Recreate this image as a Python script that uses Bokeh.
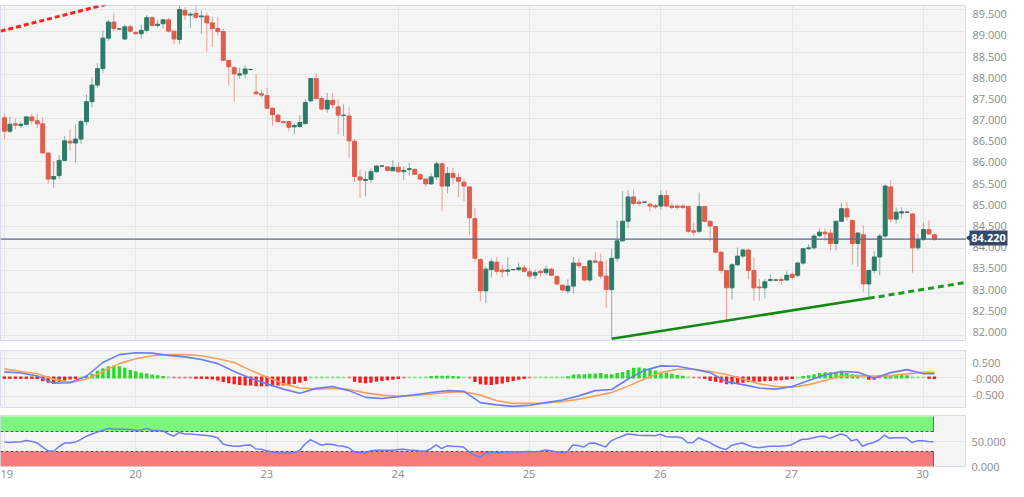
import math
from bokeh.plotting import figure
from bokeh.layouts import column, row
from bokeh.models import (ColumnDataSource, Range1d, FixedTicker, Span, AllLabels,
                          NumeralTickFormatter)
from bokeh.core.properties import value
from bokeh.embed import file_html
from bokeh.resources import INLINE

# ---------------- data ----------------
day_labels = ["19", "20", "23", "24", "25", "26", "27", "30"]
day_first_candle = [0, 24, 48, 72, 96, 120, 144, 168]

opens = [
    87.01, 86.70, 86.87, 86.83, 86.86, 87.03, 86.94, 86.87, 86.20, 85.60, 85.68, 86.03, 86.47, 86.43, 86.52, 86.92, 87.38, 87.76, 88.14, 88.84, 89.21, 89.05, 88.82, 89.10,
    88.97, 88.94, 89.02, 89.31, 89.13, 89.17, 89.26, 89.00, 88.81, 89.48, 89.37, 89.41, 89.33, 89.35, 89.19, 89.06, 88.99, 88.33, 88.16, 87.99, 88.02, 88.12, 87.60, 87.56,
    87.52, 87.23, 87.07, 86.92, 86.92, 86.80, 86.81, 86.88, 87.40, 87.91, 87.45, 87.21, 87.41, 87.26, 87.06, 87.05, 86.47, 85.65, 85.57, 85.59, 85.77, 85.90, 85.88, 85.79,
    85.87, 85.77, 85.82, 85.82, 85.70, 85.60, 85.49, 85.65, 85.95, 85.44, 85.73, 85.64, 85.53, 85.42, 84.69, 83.75, 83.03, 83.52, 83.69, 83.51, 83.48, 83.52, 83.52, 83.56,
    83.47, 83.39, 83.48, 83.45, 83.53, 83.36, 83.16, 83.03, 83.14, 83.67, 83.59, 83.28, 83.72, 83.70, 83.37, 83.06, 83.78, 84.18, 84.63, 85.19, 85.07, 85.07, 85.02, 84.99,
    84.98, 85.22, 84.98, 84.98, 84.98, 84.97, 84.41, 84.40, 84.97, 84.63, 84.51, 83.92, 83.50, 83.10, 83.63, 83.83, 83.97, 83.50, 83.12, 83.10, 83.27, 83.28, 83.29, 83.28,
    83.41, 83.39, 83.67, 84.00, 84.02, 84.30, 84.38, 84.36, 84.12, 84.63, 84.92, 84.65, 84.12, 84.32, 83.19, 83.50, 83.81, 84.29, 85.42, 84.68, 84.82, 84.84, 84.80, 84.02,
    84.21, 84.44, 84.32,
]
highs = [
    87.10, 87.04, 86.99, 86.92, 87.04, 87.10, 87.10, 87.03, 86.20, 86.01, 86.15, 86.59, 86.74, 86.85, 86.96, 87.54, 87.94, 88.27, 89.02, 89.26, 89.41, 89.06, 89.15, 89.15,
    89.00, 89.15, 89.37, 89.33, 89.26, 89.27, 89.30, 89.00, 89.59, 89.55, 89.44, 89.59, 89.48, 89.44, 89.33, 89.33, 89.06, 88.33, 88.20, 88.16, 88.21, 88.13, 88.02, 87.65,
    87.70, 87.25, 87.10, 86.94, 86.94, 86.88, 87.07, 87.43, 87.92, 88.02, 87.50, 87.58, 87.58, 87.43, 87.32, 87.25, 86.52, 85.82, 85.79, 85.85, 85.92, 85.91, 85.90, 86.03,
    85.99, 85.90, 85.97, 85.85, 85.73, 85.63, 85.73, 86.01, 85.98, 85.88, 85.86, 85.73, 85.60, 85.44, 84.93, 83.78, 83.59, 83.78, 83.81, 83.63, 83.80, 83.53, 83.68, 83.63,
    83.56, 83.52, 83.53, 83.61, 83.56, 83.39, 83.19, 83.30, 83.81, 83.78, 83.61, 83.75, 83.92, 83.89, 83.74, 84.00, 84.65, 85.33, 85.35, 85.36, 85.13, 85.08, 85.06, 85.03,
    85.35, 85.35, 85.06, 85.02, 85.04, 84.98, 84.60, 85.29, 84.98, 84.65, 84.52, 83.94, 83.50, 83.67, 84.03, 84.00, 84.00, 83.80, 83.30, 83.30, 83.41, 83.29, 83.34, 83.48,
    83.46, 83.70, 84.02, 84.10, 84.34, 84.47, 84.47, 84.44, 84.65, 85.06, 85.07, 84.68, 84.38, 84.54, 83.52, 83.94, 84.34, 85.48, 85.57, 84.95, 84.95, 84.85, 84.81, 84.34,
    84.60, 84.65, 84.36,
]
lows = [
    86.52, 86.66, 86.74, 86.77, 86.83, 86.85, 86.77, 86.19, 85.49, 85.40, 85.60, 86.01, 86.26, 85.98, 86.41, 86.83, 87.25, 87.69, 88.04, 88.78, 89.00, 89.04, 88.80, 88.97,
    88.93, 88.82, 88.97, 89.11, 89.08, 89.06, 88.97, 88.70, 88.70, 89.26, 89.08, 89.26, 88.93, 88.53, 88.64, 88.89, 88.31, 87.75, 87.38, 87.91, 87.92, 88.11, 87.54, 87.47,
    87.21, 86.83, 86.90, 86.87, 86.70, 86.63, 86.77, 86.85, 87.36, 87.43, 87.18, 87.12, 87.21, 86.63, 86.59, 86.09, 85.53, 85.17, 85.20, 85.51, 85.75, 85.89, 85.77, 85.79,
    85.75, 85.58, 85.68, 85.70, 85.58, 85.42, 85.47, 85.57, 84.86, 85.27, 85.49, 85.19, 85.09, 84.31, 83.70, 82.79, 82.75, 83.34, 83.41, 83.34, 83.37, 83.51, 83.48, 83.45,
    83.29, 83.30, 83.36, 83.39, 83.37, 83.16, 83.01, 82.97, 82.97, 83.56, 83.24, 83.23, 83.67, 83.30, 82.64, 81.93, 83.70, 84.16, 84.47, 84.99, 84.98, 85.06, 84.85, 84.92,
    84.89, 84.96, 84.91, 84.89, 84.91, 84.36, 84.29, 84.36, 84.60, 84.16, 83.89, 83.43, 82.35, 82.83, 83.61, 83.78, 83.30, 82.80, 82.80, 82.86, 83.24, 83.27, 83.17, 83.27,
    83.30, 83.34, 83.63, 83.97, 83.97, 84.27, 84.18, 83.97, 83.96, 84.62, 84.65, 83.63, 83.59, 83.01, 82.86, 83.43, 83.39, 84.25, 84.60, 84.58, 84.69, 84.83, 83.45, 83.96,
    84.18, 84.32, 84.18,
]
closes = [
    86.70, 86.86, 86.84, 86.86, 87.03, 86.94, 86.87, 86.20, 85.60, 85.66, 86.03, 86.48, 86.43, 86.52, 86.92, 87.38, 87.76, 88.14, 88.84, 89.21, 89.06, 89.05, 89.10, 89.00,
    88.94, 89.02, 89.31, 89.13, 89.16, 89.26, 89.00, 88.82, 89.50, 89.37, 89.39, 89.32, 89.35, 89.19, 89.06, 88.99, 88.33, 88.18, 88.02, 88.02, 88.13, 88.12, 87.56, 87.53,
    87.23, 87.08, 86.92, 86.90, 86.79, 86.83, 86.90, 87.36, 87.91, 87.45, 87.21, 87.41, 87.31, 87.07, 87.07, 86.48, 85.66, 85.58, 85.59, 85.77, 85.90, 85.90, 85.80, 85.87,
    85.77, 85.80, 85.84, 85.71, 85.60, 85.49, 85.65, 85.95, 85.44, 85.73, 85.64, 85.55, 85.44, 84.71, 83.78, 83.03, 83.53, 83.70, 83.48, 83.47, 83.51, 83.52, 83.56, 83.48,
    83.37, 83.45, 83.45, 83.53, 83.39, 83.19, 83.05, 83.14, 83.67, 83.61, 83.28, 83.72, 83.69, 83.37, 83.06, 83.78, 84.18, 84.63, 85.19, 85.04, 85.04, 85.07, 84.98, 84.96,
    85.22, 84.98, 84.95, 84.95, 84.95, 84.40, 84.38, 84.97, 84.63, 84.52, 83.92, 83.50, 83.10, 83.63, 83.83, 83.97, 83.50, 83.10, 83.10, 83.24, 83.29, 83.28, 83.27, 83.39,
    83.34, 83.67, 84.00, 84.02, 84.29, 84.38, 84.34, 84.12, 84.63, 84.92, 84.73, 84.12, 84.36, 83.19, 83.50, 83.81, 84.29, 85.44, 84.68, 84.84, 84.85, 84.84, 84.02, 84.21,
    84.44, 84.34, 84.22,
]
last_price = 84.22

# MACD (12,26,9)
macd_hist = [
    -0.03, -0.03, -0.03, -0.03, -0.03, -0.03, -0.04, -0.10, -0.14, -0.17, -0.12, -0.08, -0.05, -0.03, 0.00, 0.05, 0.10, 0.18, 0.25, 0.30, 0.32, 0.30, 0.26, 0.20,
    0.17, 0.13, 0.11, 0.08, 0.06, 0.04, 0.02, -0.01, -0.02, -0.02, -0.02, -0.03, -0.03, -0.04, -0.05, -0.08, -0.12, -0.15, -0.18, -0.20, -0.21, -0.21, -0.23, -0.23,
    -0.23, -0.23, -0.21, -0.21, -0.19, -0.17, -0.14, -0.09, 0.01, 0.02, 0.02, 0.02, 0.02, 0.02, 0.01, -0.01, -0.11, -0.14, -0.15, -0.14, -0.11, -0.09, -0.07, -0.06,
    -0.04, -0.02, 0.01, 0.01, 0.01, 0.02, 0.04, 0.05, 0.05, 0.05, 0.04, 0.03, 0.01, -0.02, -0.12, -0.18, -0.19, -0.20, -0.18, -0.16, -0.12, -0.09, -0.06, -0.03,
    -0.01, 0.01, 0.01, 0.02, 0.02, 0.02, 0.02, 0.03, 0.08, 0.09, 0.09, 0.10, 0.11, 0.12, 0.09, 0.09, 0.12, 0.15, 0.20, 0.26, 0.27, 0.25, 0.22, 0.18,
    0.15, 0.13, 0.10, 0.07, 0.05, 0.02, -0.01, -0.02, -0.03, -0.09, -0.11, -0.14, -0.18, -0.18, -0.16, -0.14, -0.12, -0.11, -0.11, -0.10, -0.09, -0.08, -0.07, -0.06,
    -0.04, 0.00, 0.04, 0.06, 0.09, 0.12, 0.14, 0.14, 0.14, 0.15, 0.12, 0.09, 0.06, 0.01, -0.06, -0.06, -0.01, 0.06, 0.06, 0.06, 0.07, 0.06, 0.02, 0.01,
    0.01, -0.03, -0.04,
]
macd_x = [0, 3, 6, 9, 12, 15, 18, 21, 24, 27, 30, 33, 36, 39, 42, 45, 48, 51, 54, 57, 60, 63, 66, 69, 72, 75, 78, 81, 84, 87,
          90, 93, 96, 99, 102, 105, 108, 111, 114, 117, 120, 123, 126, 129, 132, 135, 138, 141, 144, 147, 150, 153, 156, 159,
          162, 165, 168, 170]
macd_line = [0.15, 0.12, 0.04, -0.15, -0.14, 0.04, 0.40, 0.61, 0.66, 0.65, 0.59, 0.55, 0.48, 0.37, 0.16, -0.02, -0.17, -0.31,
             -0.42, -0.29, -0.24, -0.35, -0.53, -0.56, -0.51, -0.46, -0.40, -0.35, -0.37, -0.67, -0.73, -0.77, -0.74, -0.67,
             -0.60, -0.49, -0.35, -0.32, -0.04, 0.19, 0.31, 0.30, 0.22, 0.13, -0.11, -0.19, -0.28, -0.31, -0.24, -0.08, 0.07,
             0.16, 0.14, -0.02, 0.13, 0.21, 0.10, 0.10]
signal_line = [0.23, 0.16, 0.10, -0.05, -0.13, -0.04, 0.16, 0.37, 0.50, 0.58, 0.61, 0.61, 0.58, 0.50, 0.40, 0.19, 0.01, -0.17,
               -0.28, -0.31, -0.29, -0.32, -0.41, -0.47, -0.50, -0.48, -0.44, -0.40, -0.38, -0.47, -0.62, -0.69, -0.69, -0.68,
               -0.64, -0.58, -0.49, -0.40, -0.23, -0.04, 0.13, 0.22, 0.22, 0.16, 0.08, -0.04, -0.17, -0.24, -0.26, -0.19, -0.08,
               0.04, 0.05, 0.04, 0.05, 0.10, 0.14, 0.13]

rsi_values = [
    48.8, 48.1, 48.8, 49.4, 51.9, 50.0, 46.9, 38.8, 31.3, 30.6, 40.0, 46.9, 46.9, 48.8, 54.4, 60.6, 65.0, 68.8, 72.5, 76.3, 75.0, 74.4, 74.4, 73.8,
    72.5, 73.1, 76.3, 71.9, 71.9, 71.3, 65.0, 60.6, 68.1, 65.0, 65.0, 63.8, 63.1, 61.9, 60.6, 57.5, 45.0, 41.9, 40.6, 40.6, 42.5, 43.1, 35.0, 34.4,
    31.3, 28.8, 27.5, 26.9, 26.3, 27.5, 31.9, 45.0, 53.8, 48.1, 42.5, 45.0, 43.8, 41.3, 40.6, 37.5, 29.4, 27.5, 27.5, 31.3, 32.5, 32.5, 32.5, 32.5,
    33.8, 34.4, 33.1, 32.5, 31.3, 30.6, 35.6, 43.1, 35.6, 41.3, 40.6, 40.0, 38.8, 29.4, 22.5, 18.8, 26.3, 28.8, 27.5, 28.1, 28.8, 28.8, 28.8, 29.4,
    30.0, 29.4, 30.6, 33.1, 31.3, 29.4, 27.5, 29.4, 43.1, 41.9, 38.8, 46.3, 46.9, 43.1, 38.8, 51.3, 56.3, 60.6, 65.0, 63.8, 62.5, 61.9, 61.9, 61.3,
    64.4, 60.0, 58.8, 58.8, 57.5, 47.5, 48.1, 57.5, 52.5, 48.8, 41.9, 36.9, 33.8, 41.9, 45.0, 46.9, 43.1, 38.8, 37.5, 38.8, 40.6, 40.6, 40.6, 41.3,
    43.1, 49.4, 54.4, 54.4, 57.5, 60.0, 60.6, 56.3, 60.6, 65.0, 61.9, 51.3, 54.4, 40.6, 45.0, 48.1, 53.1, 62.5, 56.3, 57.5, 57.5, 57.5, 48.1, 51.3,
    51.3, 50.0, 49.4,
]
rsi_overbought_band = [70, 100]
rsi_oversold_band = [0, 30]

# drawn trend lines (candle index, price)
resistance_x = [-0.72, 30]
resistance_y = [89.00, 89.98]
support_x = [111, 158]
support_y = [81.93, 82.86]
projection_x = [158, 176]
projection_y = [82.86, 83.23]

price_ticks = [82.0, 82.5, 83.0, 83.5, 84.0, 84.5, 85.0, 85.5, 86.0, 86.5, 87.0, 87.5, 88.0, 88.5, 89.0, 89.5]
price_tick_labels = [f"{t:.3f}" for t in price_ticks]
macd_ticks = [-0.5, 0.0, 0.5]
macd_tick_labels = ["-0.500", "-0.000", "0.500"]
rsi_ticks = [0, 50]

n = len(closes)
assert len(opens) == n and len(highs) == n and len(lows) == n, (len(opens), len(highs), len(lows), n)
assert len(macd_hist) == n and len(rsi_values) == n, (len(macd_hist), len(rsi_values))
assert len(macd_x) == len(macd_line) == len(signal_line)

# ---------------- style / layout ----------------
FONT = "Open Sans"
TICK_COLOR = "#8c8c8c"
BG = "#f5f5f5"
GRID = "#e6e6e6"
OUTLINE = "#d6dce8"
GREEN = "#2b7b67"
RED = "#df5d4b"
DOJI = "#505050"
X_START, X_END = -0.72, 175.86
W = 1008
RIGHT = 42
FRAME_W = W - RIGHT

P_LO, P_HI = 81.89, 89.59
P1_H, P1_TOP, P1_BOT = 344, 5, 4
M_LO, M_HI = -0.80, 0.72
P2_H, P2_TOP, P2_BOT = 67, 6, 4

idx = list(range(n))
candle_color = [GREEN if c > o else (RED if c < o else DOJI) for o, c in zip(opens, closes)]
src = ColumnDataSource(dict(
    x=idx, high=highs, low=lows,
    top=[max(o, c) for o, c in zip(opens, closes)],
    bottom=[min(o, c) for o, c in zip(opens, closes)],
    color=candle_color,
))

x_range = Range1d(X_START, X_END)


def style_axis(ax):
    ax.axis_line_color = None
    ax.major_tick_line_color = None
    ax.minor_tick_line_color = None
    ax.major_tick_out = 0
    ax.major_tick_in = 0
    ax.major_label_text_font = FONT
    ax.major_label_text_font_size = "11px"
    ax.major_label_text_color = TICK_COLOR
    ax.major_label_policy = AllLabels()


def make_fig(width, height, y_range, top, bottom, with_xaxis, with_yaxis, right):
    p = figure(width=width, height=height, x_range=x_range, y_range=y_range,
               output_backend="svg", toolbar_location=None,
               x_axis_location="below" if with_xaxis else None,
               y_axis_location="right" if with_yaxis else None,
               min_border_left=0, min_border_right=right,
               min_border_top=top, min_border_bottom=bottom,
               background_fill_color=BG, border_fill_color="white",
               outline_line_color=OUTLINE, outline_line_width=1)
    p.xgrid.ticker = FixedTicker(ticks=day_first_candle)
    p.xgrid.grid_line_color = GRID
    p.ygrid.grid_line_color = GRID
    if with_yaxis:
        style_axis(p.yaxis[0])
        p.yaxis[0].major_label_standoff = 6
    return p


def scale_column(height, top, bottom, lo, hi, ticks, labels):
    """Right-hand value scale drawn beside a panel, on the same pixel rows."""
    per_px = (hi - lo) / (height - top - bottom)
    s = figure(width=RIGHT, height=height, x_range=Range1d(0, RIGHT),
               y_range=Range1d(lo - bottom * per_px, hi + top * per_px),
               output_backend="svg", toolbar_location=None,
               x_axis_location=None, y_axis_location=None,
               min_border=0, outline_line_color=None,
               background_fill_color="white", border_fill_color="white")
    s.xgrid.visible = False
    s.ygrid.visible = False
    s.text(x=[6] * len(ticks), y=ticks, text=labels,
           text_font=value(FONT), text_font_size="11px", text_color=TICK_COLOR,
           text_align="left", text_baseline="middle")
    return s


# ---------------- main price panel ----------------
p1 = make_fig(FRAME_W, P1_H, Range1d(P_LO, P_HI), P1_TOP, P1_BOT, False, False, 0)
p1.ygrid.ticker = FixedTicker(ticks=price_ticks)

p1.segment(x0="x", y0="high", x1="x", y1="low", source=src, line_color="color", line_alpha=0.55, line_width=1)
p1.vbar(x="x", top="top", bottom="bottom", width=0.72, source=src,
        fill_color="color", line_color="color", line_width=1)

p1.line(resistance_x, resistance_y, line_color="#ff1f1f", line_width=3, line_dash="5 3")
p1.line(support_x, support_y, line_color="#0f8a0f", line_width=2.6)
p1.line(projection_x, projection_y, line_color="#1f9a1f", line_width=3, line_dash="6 4")
p1.add_layout(Span(location=last_price, dimension="width", line_color="#56698f", line_width=1.2))

side1 = scale_column(P1_H, P1_TOP, P1_BOT, P_LO, P_HI, price_ticks, price_tick_labels)
side1.scatter(x=[3], y=[last_price], marker="triangle", size=8, angle=math.pi / 2,
              fill_color="#33496b", line_color=None)
side1.rect(x=[22], y=[last_price], width=38, height=15, height_units="screen",
           fill_color="#33496b", line_color=None)
side1.text(x=[22], y=[last_price], text=[f"{last_price:.3f}"],
           text_font=value(FONT), text_font_size="11px", text_font_style="bold",
           text_color="white", text_align="center", text_baseline="middle")

# ---------------- MACD panel ----------------
p2 = make_fig(FRAME_W, P2_H, Range1d(M_LO, M_HI), P2_TOP, P2_BOT, False, False, 0)
p2.ygrid.ticker = FixedTicker(ticks=macd_ticks)

hist_color = ["#1fe01f" if h >= 0 else "#ff1a1a" for h in macd_hist]
hist_alpha = [0.4 if abs(h) < 0.03 else 1.0 for h in macd_hist]
hsrc = ColumnDataSource(dict(x=idx, h=macd_hist, color=hist_color, alpha=hist_alpha))
p2.vbar(x="x", top="h", bottom=0, width=0.6, source=hsrc, fill_color="color", line_color=None, fill_alpha="alpha")
p2.rect(x="x", y=0, width=0.6, height=2, height_units="screen", source=hsrc,
        fill_color="color", line_color=None, fill_alpha="alpha")
p2.line(macd_x, signal_line, line_color="#f5a05c", line_width=1.6)
p2.line(macd_x, macd_line, line_color="#6c7df5", line_width=1.6)

side2 = scale_column(P2_H, P2_TOP, P2_BOT, M_LO, M_HI, macd_ticks, macd_tick_labels)

# ---------------- RSI panel ----------------
p3 = make_fig(W, 70, Range1d(0, 102), 4, 15, True, True, RIGHT)
p3.yaxis.ticker = FixedTicker(ticks=rsi_ticks)
p3.ygrid.ticker = FixedTicker(ticks=[50])
p3.yaxis.formatter = NumeralTickFormatter(format="0.000")
xa = p3.xaxis[0]
style_axis(xa)
xa.ticker = FixedTicker(ticks=day_first_candle)
xa.major_label_overrides = {t: lab for t, lab in zip(day_first_candle, day_labels)}
xa.major_label_standoff = 3

band_end = n - 1
p3.quad(left=X_START, right=band_end, bottom=rsi_overbought_band[0], top=rsi_overbought_band[1],
        fill_color="#7cf67c", line_color=None)
p3.quad(left=X_START, right=band_end, bottom=rsi_oversold_band[0], top=rsi_oversold_band[1],
        fill_color="#f87b7b", line_color=None)
p3.segment(x0=[band_end, band_end], y0=[rsi_overbought_band[0], rsi_oversold_band[0]],
           x1=[band_end, band_end], y1=[rsi_overbought_band[1], rsi_oversold_band[1]],
           line_color="#3c3c3c", line_alpha=0.7, line_width=1)
p3.segment(x0=[X_START, X_START], y0=[rsi_overbought_band[0], rsi_oversold_band[1]],
           x1=[band_end, band_end], y1=[rsi_overbought_band[0], rsi_oversold_band[1]],
           line_color="#333333", line_alpha=0.8, line_width=1, line_dash="3 2")
p3.line(idx, rsi_values, line_color="#6c7df5", line_width=1.5)

layout = column(row(p1, side1), row(p2, side2), p3)
open("out.html", "w").write(file_html(layout, INLINE))
